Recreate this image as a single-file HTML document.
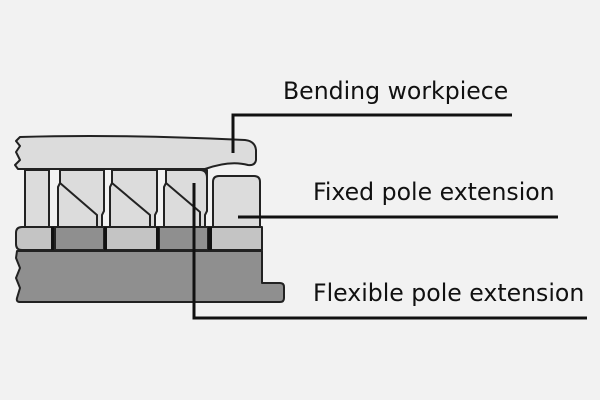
<!DOCTYPE html>
<html><head><style>
html,body{margin:0;padding:0;background:#f2f2f2;}
svg{display:block;}
text{font-family:"DejaVu Sans","Liberation Sans",sans-serif;font-size:23.6px;fill:#111;}
</style></head><body>
<svg width="600" height="400" viewBox="0 0 600 400" xmlns="http://www.w3.org/2000/svg">
<rect width="600" height="400" fill="#f2f2f2"/>
<g stroke="#222" stroke-width="2" stroke-linejoin="round">
<path d="M17,251 H262 V283 H280 Q284,283 284,287 V298 Q284,302 280,302 H20 Q16,302 17,298 L20,288 L16,278 L20,268 L16,258 Z" fill="#8f8f8f"/>
<path d="M22,227 H262 V250 H22 Q16,250 16,244 V233 Q16,227 22,227 Z" fill="#c4c4c4"/>
<rect x="55" y="227" width="49" height="23" fill="#8f8f8f"/>
<rect x="159" y="227" width="49" height="23" fill="#8f8f8f"/>
<rect x="51" y="227" width="3" height="23" fill="#111" stroke="none"/>
<rect x="104" y="227" width="3" height="23" fill="#111" stroke="none"/>
<rect x="156" y="227" width="3" height="23" fill="#111" stroke="none"/>
<rect x="208" y="227" width="4" height="23" fill="#111" stroke="none"/>
<rect x="25" y="170" width="24" height="57" fill="#dcdcdc"/>
<path d="M60,170 V183 L58,187 V227 H102 V215 L104,211 V170 Z" fill="#dcdcdc"/>
<path d="M60,183 L97,215 V227" fill="none"/>
<path d="M112,170 V183 L110,187 V227 H155 V215 L157,211 V170 Z" fill="#dcdcdc"/>
<path d="M112,183 L150,215 V227" fill="none"/>
<path d="M166,170 V183 L164,187 V227 H205 V215 L207,211 V170 Z" fill="#dcdcdc"/>
<path d="M166,183 L200,212 V227" fill="none"/>
<path d="M207,211 V178 Q207,170 200,170" fill="none"/>
<path d="M213,227 V182 Q213,176 219,176 H254 Q260,176 260,182 V227 Z" fill="#dcdcdc"/>
<path d="M20,137 Q120,134 245,140 Q255,141 256,150 V160 Q255,166 248,165 Q230,160 205,169 H18 L15,165 L20,160 L16,152 L20,146 L16,141 Z" fill="#dcdcdc"/>
</g>
<g stroke="#111" stroke-width="3" fill="none">
<path d="M233,153 V115 H512"/>
<path d="M238,217 H558"/>
<path d="M194,183 V318 H587"/>
</g>
<text x="283" y="99">Bending workpiece</text>
<text x="313" y="200">Fixed pole extension</text>
<text x="313" y="301">Flexible pole extension</text>
</svg>
</body></html>
